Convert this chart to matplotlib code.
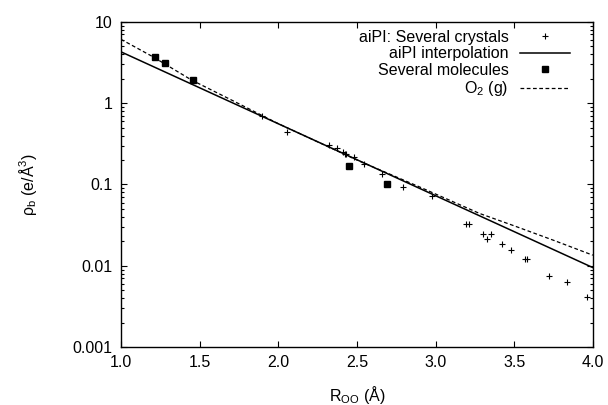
import numpy as np
import matplotlib
matplotlib.use('Agg')
import matplotlib.pyplot as plt
from matplotlib.ticker import FixedLocator, LogLocator, FuncFormatter, NullFormatter

plt.rcParams['font.family'] = ['Liberation Sans', 'DejaVu Sans']
plt.rcParams['mathtext.fontset'] = 'custom'
plt.rcParams['mathtext.rm'] = 'Liberation Sans'
plt.rcParams['mathtext.it'] = 'Liberation Sans:italic'
plt.rcParams['font.size'] = 11.5

# aiPI: several crystals
crystal_r = [1.894, 2.053, 2.325, 2.375, 2.413, 2.424, 2.43, 2.481, 2.545, 2.657,
             2.795, 2.98, 3.193, 3.212, 3.30, 3.325, 3.35, 3.422, 3.477, 3.566,
             3.583, 3.722, 3.837, 3.964]
crystal_rho = [0.70, 0.44, 0.31, 0.28, 0.25, 0.24, 0.235, 0.22, 0.18, 0.136,
               0.093, 0.072, 0.033, 0.033, 0.0249, 0.0212, 0.0249, 0.0184, 0.0155, 0.0121,
               0.0121, 0.0074, 0.0064, 0.0041]

# aiPI interpolation (straight on the log axis)
interp_r = [1.0, 4.0]
interp_rho = [4.28, 0.0095]

# several molecules
mol_r = [1.214, 1.277, 1.456, 2.451, 2.689]
mol_rho = [3.65, 3.08, 1.92, 0.171, 0.10]

# O2 (g)
o2_r = [1.0, 1.2, 1.45, 1.7, 2.0, 2.5, 2.9, 3.28, 3.5, 3.75, 4.0]
o2_rho = [6.1, 3.75, 1.92, 1.1, 0.56, 0.20, 0.093, 0.044, 0.031, 0.0206, 0.0135]

fig = plt.figure(figsize=(6.08, 4.05), dpi=100)
ax = fig.add_axes([0.199, 0.143, 0.776, 0.803])

ax.plot(crystal_r, crystal_rho, ls='none', marker='+', ms=5, mew=0.8, color='black',
        label='aiPI: Several crystals')
ax.plot(interp_r, interp_rho, ls='-', lw=1.1, color='black', label='aiPI interpolation')
ax.plot(mol_r, mol_rho, ls='none', marker='s', ms=4.5, color='black', label='Several molecules')
ax.plot(o2_r, o2_rho, ls=(0, (3, 2)), lw=0.9, color='black', label='O$_2$ (g)')

ax.set_yscale('log')
ax.set_xlim(1.0, 4.0)
ax.set_ylim(0.001, 10)
ax.xaxis.set_major_locator(FixedLocator([1.0, 1.5, 2.0, 2.5, 3.0, 3.5, 4.0]))
ax.xaxis.set_major_formatter(FuncFormatter(lambda v, _: f'{v:.1f}'))
ax.yaxis.set_major_locator(LogLocator(base=10, numticks=10))
ax.yaxis.set_minor_locator(LogLocator(base=10, subs=np.arange(2, 10), numticks=10))
ax.yaxis.set_major_formatter(FuncFormatter(lambda v, _: f'{v:g}'))
ax.yaxis.set_minor_formatter(NullFormatter())

ax.tick_params(which='both', direction='in', top=True, right=True, width=0.8)
ax.tick_params(which='major', length=4.5, pad=6)
ax.tick_params(which='minor', length=2.5)
for s in ax.spines.values():
    s.set_linewidth(1.0)

ax.set_xlabel('R$_\\mathrm{OO}$ (Å)', labelpad=10)
ax.set_ylabel('ρ$_\\mathrm{b}$ (e/Å$^3$)', labelpad=24)

leg = ax.legend(loc='upper right', frameon=False, markerfirst=False, handlelength=3.1,
                labelspacing=0.1, borderaxespad=0.2, handletextpad=0.75,
                bbox_to_anchor=(0.972, 1.006))

fig.savefig('out.png', dpi=100)
